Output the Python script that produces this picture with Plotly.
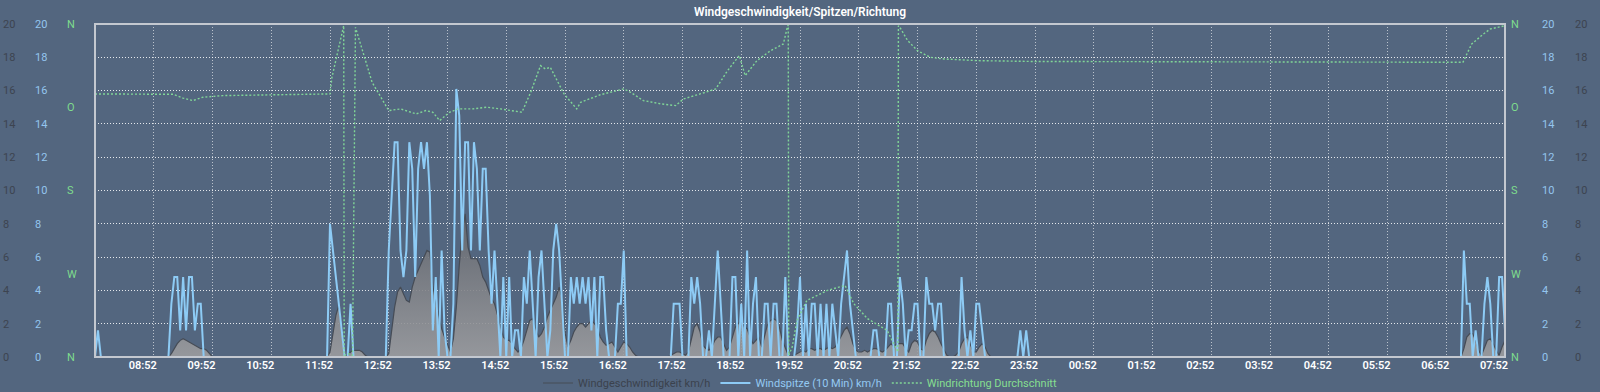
import pandas as pd
import plotly.graph_objects as go

# ---------------- data ----------------
START = "2024-05-01 07:52"          # first sample; 3-minute samples for 24 h

# Windspitze (10 Min) km/h, one row per hour starting at 07:52
gust_kmh = [
    0,1.6,0,0,0,0,0,0,0,0,0,0,0,0,0,0,0,0,0,0,                       # 07:52
    0,0,0,0,0,0,3.2,4.8,4.8,1.6,4.8,1.6,4.8,4.8,1.6,3.2,3.2,0,0,0,   # 08:52
    0,0,0,0,0,0,0,0,0,0,0,0,0,0,0,0,0,0,0,0,                         # 09:52
    0,0,0,0,0,0,0,0,0,0,0,0,0,0,0,0,0,0,0,0,                         # 10:52
    8.0,6.4,4.8,3.2,1.6,0,0,3.2,0,0,0,0,0,0,0,0,0,0,0,0,             # 11:52
    6.4,9.7,12.9,12.9,6.4,4.8,6.4,12.9,11.3,4.8,11.3,12.9,11.3,12.9,9.7,1.6,4.8,0,6.4,1.6,  # 12:52
    0,0,3.2,16.1,14.5,6.4,12.9,12.9,6.4,12.9,11.3,6.4,11.3,11.3,6.4,3.2,6.4,3.2,0,4.8,      # 13:52
    0,4.8,0,1.6,1.6,0,4.8,3.2,6.4,3.2,0,4.8,6.4,3.2,0,1.6,6.4,8.0,6.4,3.2,                 # 14:52
    0,0,4.8,3.2,4.8,3.2,4.8,3.2,4.8,1.6,4.8,0,4.8,4.8,1.6,0,0,0,3.2,3.2,                   # 15:52
    6.4,0,0,0,0,0,0,0,0,0,0,0,0,0,0,0,0,3.2,3.2,3.2,                                       # 16:52
    0,0,0,4.8,3.2,4.8,3.2,0,0,1.6,0,3.2,6.4,3.2,0,0,0,4.8,4.8,0,                           # 17:52
    3.2,0,6.4,0,3.2,4.8,0,0,3.2,3.2,0,3.2,3.2,0,0,4.8,0,0,0,1.6,                           # 18:52
    4.8,0,3.2,0,3.2,3.2,0,3.2,0,3.2,0,3.2,1.6,0,3.2,4.8,6.4,3.2,1.6,0,                     # 19:52
    0,0,0,0,0,1.6,1.6,0,0,0,3.2,3.2,0,0,4.8,3.2,0,1.6,1.6,3.2,                             # 20:52
    3.2,0,0,4.8,3.2,3.2,1.6,3.2,3.2,0,0,0,0,0,0,4.8,1.6,0,1.6,0,                           # 21:52
    3.2,3.2,1.6,0,0,0,0,0,0,0,0,0,0,0,0,1.6,0,1.6,0,0,                                     # 22:52
    0,0,0,0,0,0,0,0,0,0,0,0,0,0,0,0,0,0,0,0,                         # 23:52
    0,0,0,0,0,0,0,0,0,0,0,0,0,0,0,0,0,0,0,0,                         # 00:52
    0,0,0,0,0,0,0,0,0,0,0,0,0,0,0,0,0,0,0,0,                         # 01:52
    0,0,0,0,0,0,0,0,0,0,0,0,0,0,0,0,0,0,0,0,                         # 02:52
    0,0,0,0,0,0,0,0,0,0,0,0,0,0,0,0,0,0,0,0,                         # 03:52
    0,0,0,0,0,0,0,0,0,0,0,0,0,0,0,0,0,0,0,0,                         # 04:52
    0,0,0,0,0,0,0,0,0,0,0,0,0,0,0,0,0,0,0,0,                         # 05:52
    0,0,0,0,0,0,6.4,3.2,3.2,0,1.6,0,0,3.2,4.8,3.2,0,0,4.8,4.8,       # 06:52
    1.6,                                                             # 07:52
]

# Windgeschwindigkeit km/h, same sampling
speed_kmh = [
    0,0,0,0,0,0,0,0,0,0,0,0,0,0,0,0,0,0,0,0,
    0,0,0,0,0,0,0.2,0.5,0.8,1.0,1.1,1.0,0.9,0.8,0.7,0.6,0.5,0.5,0.4,0.2,
    0,0,0,0,0,0,0,0,0,0,0,0,0,0,0,0,0,0,0,0,
    0,0,0,0,0,0,0,0,0,0,0,0,0,0,0,0,0,0,0,0,
    0.3,1.5,2.5,3.1,1.8,0.1,0.1,0.3,0.4,0.4,0.4,0.3,0.1,0,0,0,0,0,0,0,
    0.2,1.6,3.0,3.9,4.2,3.8,3.4,3.3,4.2,4.8,5.2,5.5,5.9,6.4,6.3,4.3,3.3,2.4,1.7,1.2,
    0.7,0.3,1.1,3.0,5.5,7.5,8.6,6.6,5.9,5.9,5.9,5.5,4.8,4.5,4.0,3.5,3.2,2.5,1.8,1.2,
    1.0,1.0,0.8,0.5,0.3,0.5,1.0,1.6,2.2,2.3,1.8,1.2,1.4,1.8,2.4,2.8,3.3,3.6,4.2,3.6,
    1.5,0.6,1.0,1.5,1.8,2.0,2.0,1.8,2.0,2.2,2.0,1.8,1.2,0.9,0.7,0.8,0.9,0.6,0.3,0.6,
    0.9,0.8,0.6,0.3,0.1,0,0,0,0,0,0,0,0,0,0,0,0.1,0.2,0.3,0.3,
    0.2,0.1,0.3,1.0,1.8,2.0,1.5,0.7,0.5,0.4,0.6,1.0,1.2,1.2,0.8,0.4,0.6,1.2,1.8,2.0,
    2.2,1.8,1.7,1.2,0.8,1.0,1.2,0.6,1.4,2.0,2.2,2.3,2.2,1.8,1.0,0.6,0.1,0,0.1,0.2,
    0.3,0.4,0.3,0.5,0.5,0.4,0.5,0.5,0.4,0.5,0.6,0.5,0.6,0.9,1.3,1.6,1.8,1.4,0.8,0.4,
    0.3,0.3,0.4,0.3,0.4,0.5,0.5,0.4,0.3,0.4,0.6,0.8,0.6,0.8,0.8,0.8,0.5,0.3,0.8,1.0,
    0.9,0.5,0.4,1.0,1.4,1.6,1.5,1.2,0.8,0.4,0.1,0,0,0.1,0.3,0.8,1.1,1.2,0.8,0.3,
    0.3,0.6,0.8,0.6,0.2,0,0,0,0,0,0,0,0,0,0,0,0,0,0,0,
    0,0,0,0,0,0,0,0,0,0,0,0,0,0,0,0,0,0,0,0,
    0,0,0,0,0,0,0,0,0,0,0,0,0,0,0,0,0,0,0,0,
    0,0,0,0,0,0,0,0,0,0,0,0,0,0,0,0,0,0,0,0,
    0,0,0,0,0,0,0,0,0,0,0,0,0,0,0,0,0,0,0,0,
    0,0,0,0,0,0,0,0,0,0,0,0,0,0,0,0,0,0,0,0,
    0,0,0,0,0,0,0,0,0,0,0,0,0,0,0,0,0,0,0,0,
    0,0,0,0,0,0,0,0,0,0,0,0,0,0,0,0,0,0,0,0,
    0,0,0,0,0,0,0.5,1.2,1.4,1.4,1.0,0.4,0.1,0.6,1.0,1.1,0.8,0.4,0.1,0.6,
    1.0,
]

# Windrichtung Durchschnitt: minutes after START and direction in degrees
dir_minutes = [0, 80, 90, 100, 110, 130, 240, 242, 254, 254.5, 259, 263, 266, 283,
               300, 312, 328, 338, 345, 352, 362, 371, 386, 400, 414, 436, 445, 455,
               460, 465, 479, 492, 496, 516, 540, 547, 560, 578, 593, 601, 618, 634,
               646, 658, 664, 676, 690, 703, 707, 708, 708.5, 712, 717, 727, 748, 766,
               775, 789, 809, 816, 820, 820.5, 823, 830, 840, 853, 867, 901, 958, 1397,
               1406, 1418, 1425, 1440]
dir_deg = [75.6, 76, 80.1, 82.8, 79.2, 77.4, 75.6, 57.6, 1.8, 358.2, 356.4, 358.2, 3.6, 63,
           93.6, 91.8, 97.2, 93.6, 95.4, 104.4, 95.4, 91.8, 91.8, 90, 91.8, 95.4, 73.8, 45,
           48.6, 46.8, 75.6, 91.8, 84.6, 76.5, 70.2, 73.8, 82.8, 86.4, 88.2, 81, 75.6, 70.2,
           50.4, 34.2, 55.8, 39.6, 28.8, 21.6, 3.6, 0.9, 358.2, 349.2, 320.4, 298.8, 288, 282.6,
           302.4, 318.6, 331.2, 345.6, 354.6, 1.8, 5.4, 18, 28.8, 36, 37.8, 39.6, 40.5, 41.4,
           21.6, 10.8, 5.4, 1.8]

speed_ticks = [0, 2, 4, 6, 8, 10, 12, 14, 16, 18, 20]
dir_tick_pos = [0, 5, 10, 15, 20]
dir_tick_text = ["N", "W", "S", "O", "N"]

# ---------------- figure ----------------
FONT = "Roboto, 'Liberation Sans', sans-serif"
BG = "#53667f"
W, H = 1600, 392
PL, PR, PT, PB = 95, 1505, 24, 357   # plot box in pixels

t0 = pd.Timestamp(START)
sample_times = pd.date_range(t0, periods=len(speed_kmh), freq="3min")
dir_times = [t0 + pd.Timedelta(minutes=m) for m in dir_minutes]
hour_ticks = pd.date_range(t0 + pd.Timedelta(hours=1), periods=24, freq="h")

fig = go.Figure()
fig.add_trace(go.Scatter(x=sample_times, y=speed_kmh, mode="lines",
                         line=dict(width=0, color="rgba(0,0,0,0)"),
                         fill="tozeroy",
                         fillgradient=dict(type="vertical", start=0, stop=9,
                                           colorscale=[[0, "rgba(158,158,160,0.88)"],
                                                       [1, "rgba(96,100,108,0.92)"]]),
                         showlegend=False, hoverinfo="skip"))
fig.add_trace(go.Scatter(x=sample_times, y=speed_kmh, mode="lines",
                         line=dict(width=1.2, color="#464c56"),
                         name='<span style="color:#3b424d">Windgeschwindigkeit km/h</span>'))
fig.add_trace(go.Scatter(x=sample_times, y=gust_kmh, mode="lines",
                         line=dict(width=2, color="#8dcbf5"),
                         name='<span style="color:#93c9f2">Windspitze (10 Min) km/h</span>'))
fig.add_trace(go.Scatter(x=dir_times, y=dir_deg, yaxis="y2", mode="lines",
                         line=dict(width=1.4, color="#80d597", dash="2px,2px"),
                         name='<span style="color:#86df90">Windrichtung Durchschnitt</span>'))

# invisible anchors so that the label-only axes get drawn
for ax in ["y3", "y4", "y5", "y6", "y7", "y8"]:
    fig.add_trace(go.Scatter(x=[t0], y=[0], yaxis=ax, mode="markers",
                             marker=dict(opacity=0, size=1), showlegend=False,
                             hoverinfo="skip"))


def label_axis(px, color, vals, texts):
    return dict(overlaying="y", anchor="free", position=px / W, side="right",
                range=[0, 20], tickmode="array", tickvals=vals, ticktext=texts,
                showgrid=False, zeroline=False, showline=False, ticks="",
                tickfont=dict(size=11, color=color, family=FONT),
                fixedrange=True, automargin=False)


GRAY_T, BLUE_T, GREEN_T = "#3d4450", "#93c5ee", "#7edc8d"

fig.update_layout(
    width=W, height=H, autosize=False,
    margin=dict(l=0, r=0, t=0, b=0, autoexpand=False),
    paper_bgcolor=BG, plot_bgcolor=BG,
    showlegend=True,
    title=dict(text="Windgeschwindigkeit/Spitzen/Richtung", x=0.5, xanchor="center",
               xref="paper", y=1 - 12 / H, yanchor="middle", yref="container",
               font=dict(size=12, color="white", family=FONT, weight=600)),
    legend=dict(orientation="h", x=0.5, xanchor="center", y=9 / H, yanchor="middle",
                yref="container", font=dict(size=11, family=FONT),
                bgcolor="rgba(0,0,0,0)", itemwidth=30, traceorder="normal"),
    xaxis=dict(type="date", domain=[PL / W, PR / W],
               range=[t0, t0 + pd.Timedelta(hours=24)],
               tickmode="array", tickvals=hour_ticks, tickformat="%H:%M",
               showgrid=True, gridcolor="rgba(255,255,255,0.6)", griddash="1px,2px",
               gridwidth=1, zeroline=False, showline=False, ticks="",
               tickfont=dict(size=11, color="white", family=FONT, weight=600),
               ticklabelshift=-11, fixedrange=True, automargin=False),
    yaxis=dict(domain=[(H - PB) / H, (H - PT) / H], range=[0, 20],
               tickmode="array", tickvals=speed_ticks,
               showgrid=True, gridcolor="rgba(255,255,255,0.85)", griddash="1px,2px",
               gridwidth=1, showticklabels=False, zeroline=False, showline=False,
               ticks="", fixedrange=True, automargin=False),
    yaxis2=dict(overlaying="y", range=[360, 0], visible=False, fixedrange=True),
    yaxis3=label_axis(2, GRAY_T, speed_ticks, [str(v) for v in speed_ticks]),
    yaxis4=label_axis(34, BLUE_T, speed_ticks, [str(v) for v in speed_ticks]),
    yaxis5=label_axis(66, GREEN_T, dir_tick_pos, dir_tick_text),
    yaxis6=label_axis(1510, GREEN_T, dir_tick_pos, dir_tick_text),
    yaxis7=label_axis(1541, BLUE_T, speed_ticks, [str(v) for v in speed_ticks]),
    yaxis8=label_axis(1574, GRAY_T, speed_ticks, [str(v) for v in speed_ticks]),
    shapes=[dict(type="rect", xref="x domain", yref="y domain", x0=0, x1=1, y0=0, y1=1,
                 line=dict(color="#c3c8d0", width=2), layer="above")],
)

fig.write_html("out.html", config={"displayModeBar": False},
               post_script="document.body.style.margin='0';document.body.style.overflow='hidden';")
